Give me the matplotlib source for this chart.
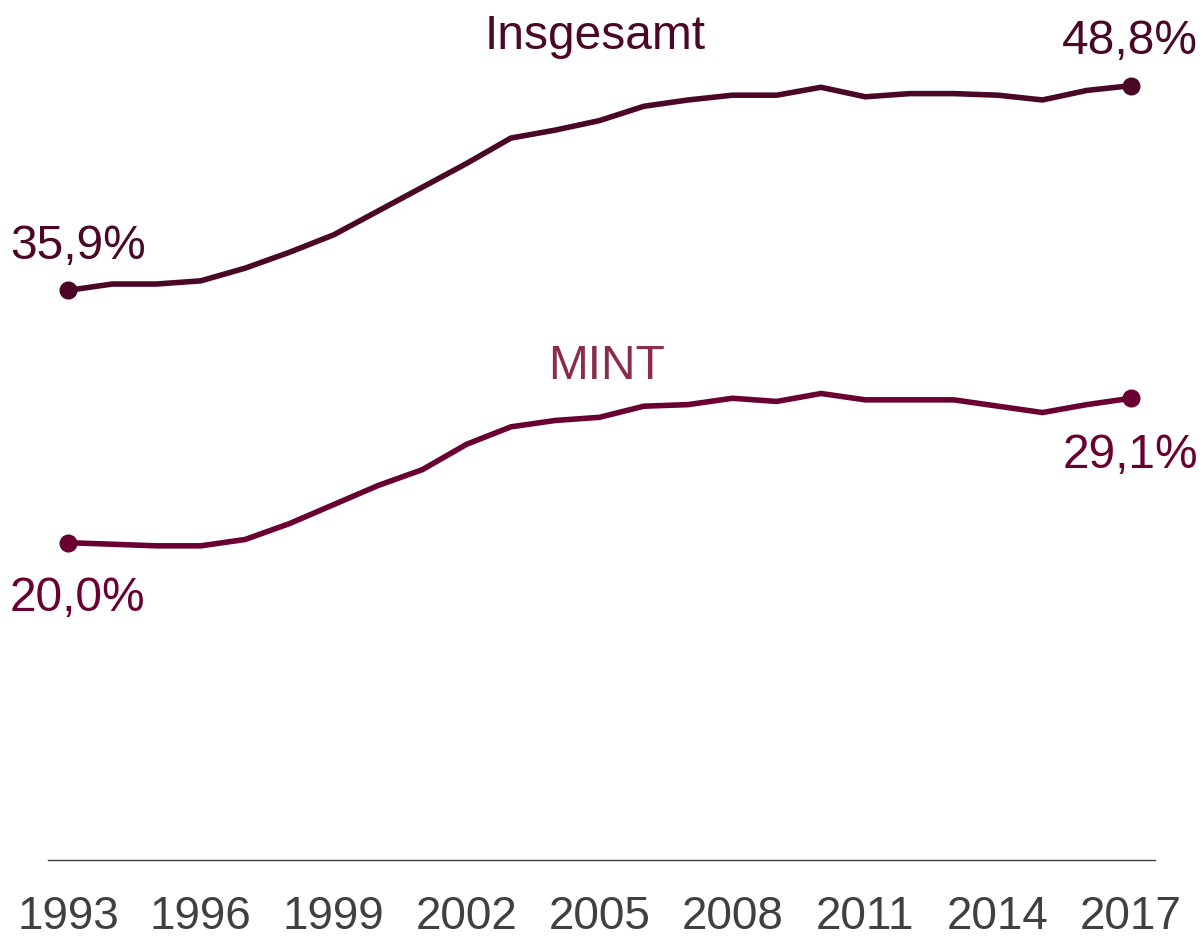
import matplotlib
matplotlib.use("Agg")
import matplotlib.pyplot as plt

plt.rcParams["font.family"] = ["Liberation Sans", "DejaVu Sans"]

# Data
years = list(range(1993, 2018))
insgesamt = [35.9, 36.3, 36.3, 36.5, 37.3, 38.3, 39.4, 40.9, 42.4, 43.9, 45.5, 46.0, 46.6,
             47.5, 47.9, 48.2, 48.2, 48.7, 48.1, 48.3, 48.3, 48.2, 47.9, 48.5, 48.8]
mint = [20.0, 19.9, 19.8, 19.8, 20.2, 21.2, 22.4, 23.6, 24.6, 26.2, 27.3, 27.7, 27.9,
        28.6, 28.7, 29.1, 28.9, 29.4, 29.0, 29.0, 29.0, 28.6, 28.2, 28.7, 29.1]
tick_years = [1993, 1996, 1999, 2002, 2005, 2008, 2011, 2014, 2017]

col_ins = "#4b0726"
col_mint = "#6a0032"
col_mint_label = "#8a2d47"

fig = plt.figure(figsize=(12.03, 9.40), dpi=100)
ax = fig.add_axes([48 / 1203, 80 / 940, (1155 - 48) / 1203, 860 / 940])

ax.plot(years, insgesamt, color=col_ins, lw=4.0, solid_joinstyle="miter")
ax.plot(years, mint, color=col_mint, lw=4.0, solid_joinstyle="miter")
ax.plot([years[0], years[-1]], [insgesamt[0], insgesamt[-1]], "o", color=col_ins, ms=12)
ax.plot([years[0], years[-1]], [mint[0], mint[-1]], "o", color=col_mint, ms=12)

fmt = lambda v: f"{v:.1f}%".replace(".", ",")
fs = 34.5
ax.annotate(fmt(insgesamt[0]), (years[0], insgesamt[0]), xytext=(10, 44), textcoords="offset pixels",
            ha="center", va="center", fontsize=fs, color=col_ins)
ax.annotate(fmt(insgesamt[-1]), (years[-1], insgesamt[-1]), xytext=(67, 44), textcoords="offset pixels",
            ha="right", va="center", fontsize=fs, color=col_ins)
ax.annotate(fmt(mint[0]), (years[0], mint[0]), xytext=(10, -56), textcoords="offset pixels",
            ha="center", va="center", fontsize=fs, color=col_mint)
ax.annotate(fmt(mint[-1]), (years[-1], mint[-1]), xytext=(67, -57), textcoords="offset pixels",
            ha="right", va="center", fontsize=fs, color=col_mint)
ax.text(2004.9, 51.9, "Insgesamt", ha="center", va="center", fontsize=fs, color=col_ins)
ax.text(2005.17, 31.1, "MINT", ha="center", va="center", fontsize=fs, color=col_mint_label)

ax.set_xlim(1992.55, 2017.54)
ax.set_ylim(0, 54.2)
ax.set_xticks(tick_years)
ax.set_xticklabels([str(y) for y in tick_years])
ax.tick_params(axis="x", length=0, pad=25, labelsize=33, labelcolor="#404040")
ax.set_yticks([])
for s in ["top", "right", "left"]:
    ax.spines[s].set_visible(False)
ax.spines["bottom"].set_color("#404040")
ax.spines["bottom"].set_linewidth(1)

fig.savefig("out.png", dpi=100)
